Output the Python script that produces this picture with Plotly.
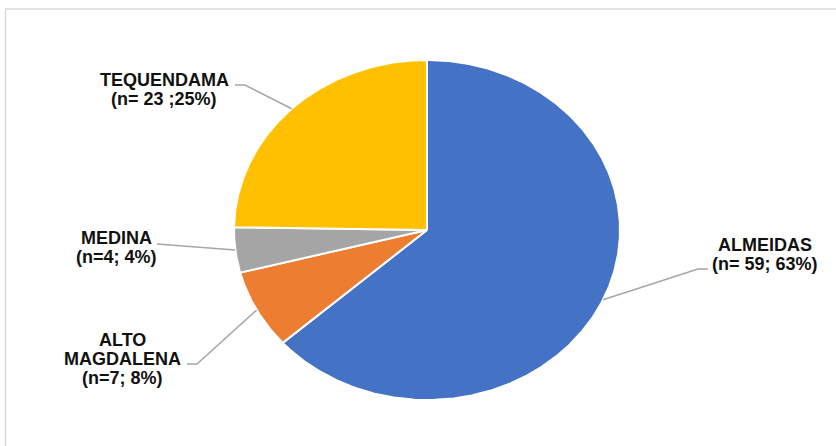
import numpy as np
import plotly.graph_objects as go

# ---- data ----
categories = ["ALMEIDAS", "ALTO MAGDALENA", "MEDINA", "TEQUENDAMA"]
counts = [59, 7, 4, 23]
label_lines = [
    ["ALMEIDAS", "(n= 59; 63%)"],
    ["ALTO", "MAGDALENA", "(n=7; 8%)"],
    ["MEDINA", "(n=4; 4%)"],
    ["TEQUENDAMA", "(n= 23 ;25%)"],
]
colors = ["#4472C4", "#ED7D31", "#A5A5A5", "#FFC000"]

# ---- layout constants (pixel space) ----
W, H = 836, 446
CX, CY = 427, 230          # pie centre
RX, RY = 193, 170          # pie radii (chart is stretched horizontally)
# label placement: (elbow x, elbow y, end x, text centre x, first-line y)
label_pos = [
    (698, 269, 708, 765, 245),
    (197, 364, 187, 122, 340),
    (165, 244, 157, 116, 238),
    (245, 85, 235, 164, 80),
]
LINE_GAP = 19
FONT = dict(family="Liberation Sans, Arial, sans-serif", size=18, color="#111111")

fig = go.Figure()

total = sum(counts)
start = 0.0
mids = []
for cat, v, col in zip(categories, counts, colors):
    span = 360.0 * v / total
    ang = np.radians(np.linspace(start, start + span, max(int(span * 2), 4)))
    xs = np.concatenate([[CX], CX + RX * np.sin(ang), [CX]])
    ys = np.concatenate([[CY], CY - RY * np.cos(ang), [CY]])
    fig.add_trace(go.Scatter(x=xs, y=ys, mode="lines", fill="toself",
                             fillcolor=col, line=dict(color="white", width=2),
                             hoverinfo="text", text=cat, showlegend=False))
    mids.append(np.radians(start + span / 2))
    start += span

# leader lines + labels
for m, lines, (ex, ey, endx, tx, ty) in zip(mids, label_lines, label_pos):
    px = CX + RX * np.sin(m)
    py = CY - RY * np.cos(m)
    fig.add_trace(go.Scatter(x=[px, ex, endx], y=[py, ey, ey], mode="lines",
                             line=dict(color="#A6A6A6", width=1.5),
                             hoverinfo="skip", showlegend=False))
    for i, t in enumerate(lines):
        fig.add_annotation(x=tx, y=ty + i * LINE_GAP, text="<b>%s</b>" % t,
                           showarrow=False, font=FONT,
                           xanchor="center", yanchor="middle")

fig.add_shape(type="rect", x0=5.5, y0=9, x1=W + 10, y1=H + 10,
              line=dict(color="#D9D9D9", width=1.5), layer="below")

fig.update_layout(
    width=W, height=H, margin=dict(l=0, r=0, t=0, b=0),
    paper_bgcolor="white", plot_bgcolor="white",
    xaxis=dict(range=[0, W], visible=False, fixedrange=True),
    yaxis=dict(range=[H, 0], visible=False, fixedrange=True),
    showlegend=False,
)

fig.write_html("out.html")
